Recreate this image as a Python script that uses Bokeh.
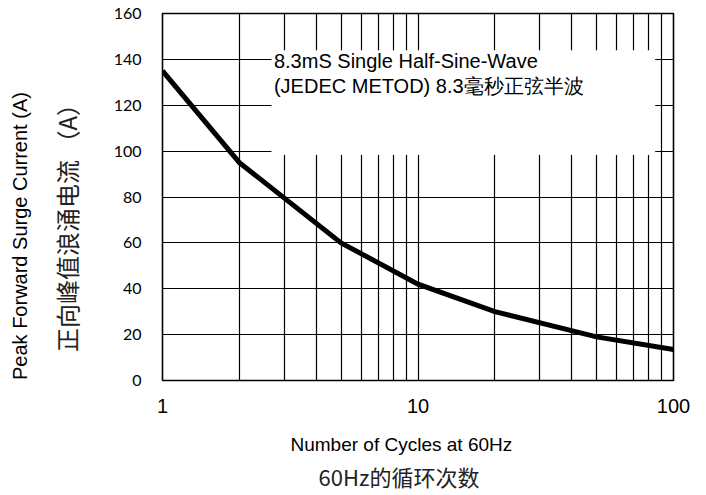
from bokeh.plotting import figure
from bokeh.models import Range1d, FixedTicker, BoxAnnotation, Label, Title
from bokeh.embed import file_html
from bokeh.resources import INLINE

# ---- data ----
cycles = [1, 2, 5, 10, 20, 50, 100]
current = [135, 95, 60, 42, 30, 19, 13.5]

x_ticks = [1, 10, 100]
x_tick_labels = ["1", "10", "100"]
x_grid = [1, 2, 3, 4, 5, 6, 7, 8, 9, 10, 20, 30, 40, 50, 60, 70, 80, 90, 100]
y_ticks = [0, 20, 40, 60, 80, 100, 120, 140, 160]

note_line1 = "8.3mS Single Half-Sine-Wave"
note_line2 = "(JEDEC METOD)  8.3毫秒正弦半波"
x_title_en = "Number of Cycles at 60Hz"
x_title_cn = "60Hz的循环次数"
y_title_en = "Peak Forward Surge Current (A)"
y_title_cn = "正向峰值浪涌电流 （A）"

LAT = "Liberation Sans"
CJK = "Noto Sans CJK SC"

p = figure(width=698, height=495, x_axis_type="log",
           x_range=Range1d(1, 100), y_range=Range1d(0, 160),
           output_backend="svg", toolbar_location=None,
           min_border_left=162, min_border_right=25,
           min_border_top=13, min_border_bottom=115)

p.background_fill_color = "white"
p.border_fill_color = "white"
p.outline_line_color = "black"
p.outline_line_width = 1.6
p.outline_line_alpha = 1.0

# grids
p.xgrid.ticker = FixedTicker(ticks=x_grid)
p.ygrid.ticker = FixedTicker(ticks=y_ticks)
for g in (p.xgrid[0], p.ygrid[0]):
    g.grid_line_color = "black"
    g.grid_line_alpha = 1.0
    g.grid_line_width = 1.2

# x axis
xa = p.xaxis[0]
xa.ticker = FixedTicker(ticks=x_ticks)
xa.major_label_overrides = {float(t): l for t, l in zip(x_ticks, x_tick_labels)}
xa.axis_line_color = None
xa.major_tick_out = 0
xa.major_tick_in = 0
xa.minor_tick_out = 0
xa.minor_tick_in = 0
xa.major_label_standoff = 18
xa.major_label_text_font = LAT
xa.major_label_text_font_size = "20px"
xa.major_label_text_color = "black"

# y axis
ya = p.yaxis[0]
ya.ticker = FixedTicker(ticks=y_ticks)
ya.axis_line_color = None
ya.major_tick_out = 0
ya.major_tick_in = 0
ya.minor_tick_out = 0
ya.minor_tick_in = 0
ya.major_label_standoff = 21
ya.major_label_text_font = "Lato"
ya.major_label_text_font_size = "16px"
ya.major_label_text_color = "black"


# axis titles as side-panel titles
def side_title(text, font, size, color, standoff, offset):
    return Title(text=text, text_font=font, text_font_size=size,
                 text_font_style="normal", text_color=color,
                 align="left", offset=offset, standoff=standoff)


p.add_layout(side_title(x_title_en, LAT, "19px", "black", 33, 128), "below")
p.add_layout(side_title(x_title_cn, CJK, "22px", "#222222", -41, 156), "below")
p.add_layout(side_title(y_title_cn, CJK, "24px", "#222222", 54, 28.5), "left")
p.add_layout(side_title(y_title_en, LAT, "20px", "black", -22, 0.5), "left")

# curve
p.line(cycles, current, line_width=5, line_color="black", line_join="miter")

# note box
box = BoxAnnotation(left=2.67, right=84.8, bottom=98.3, top=144,
                    fill_color="white", fill_alpha=1.0, line_color=None)
p.add_layout(box)
p.add_layout(Label(x=2.73, y=139.5, text=note_line1, text_font=LAT,
                   text_font_size="20px", text_color="black",
                   text_baseline="alphabetic", text_align="left"))
p.add_layout(Label(x=2.73, y=128.5, text=note_line2, text_font=LAT,
                   text_font_size="20px", text_color="black",
                   text_baseline="alphabetic", text_align="left"))

open("out.html", "w").write(file_html(p, INLINE))
